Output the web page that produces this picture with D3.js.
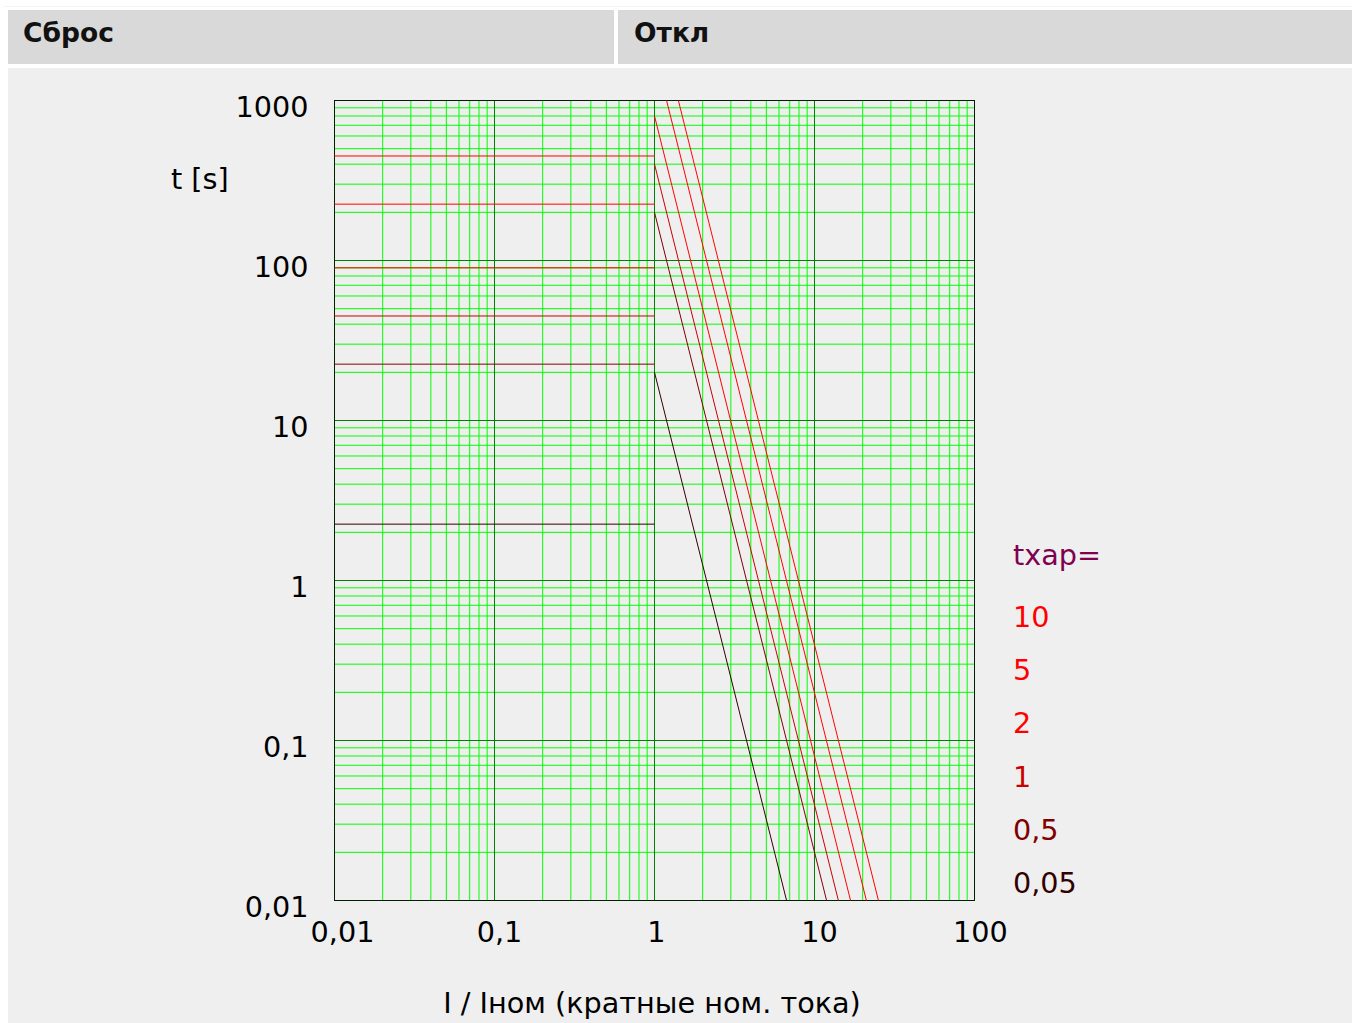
<!DOCTYPE html>
<html><head><meta charset="utf-8">
<script src="https://cdn.jsdelivr.net/npm/d3@7"></script>
<style>
html,body{margin:0;padding:0;background:#fff;}
svg{display:block;font-family:"DejaVu Sans",sans-serif;}
</style></head>
<body>
<script>
// ---- data ----
const headers = ["Сброс", "Откл"];
const txap = [10, 5, 2, 1, 0.5, 0.05];
const txapLabels = ["10", "5", "2", "1", "0,5", "0,05"];
const txapColors = ["#ff0000", "#ff0000", "#ff0000", "#cc0000", "#800000", "#330000"];
// reset (Сброс) times for I < 1, seconds
const resetTimes = [450, 225, 90, 45, 22.5, 2.25];
// trip curve start points [I, t] and end points [I, t]
const tripStart = [[1.41, 1000], [1.19, 1000], [1, 800], [1, 400], [1, 200], [1, 20]];
const tripEnd = [[25.1, 0.01], [21.1, 0.01], [16.8, 0.01], [14.1, 0.01], [11.9, 0.01], [6.69, 0.01]];
const xTicks = [0.01, 0.1, 1, 10, 100];
const xTickLabels = ["0,01", "0,1", "1", "10", "100"];
const yTicks = [0.01, 0.1, 1, 10, 100, 1000];
const yTickLabels = ["0,01", "0,1", "1", "10", "100", "1000"];
const xTitle = "I / Iном (кратные ном. тока)";
const yTitle = "t [s]";
const legendTitle = "tхар=";

const W = 1352, H = 1023;
const FS = 28.7;
const svg = d3.select("body").append("svg").attr("width", W).attr("height", H);

// background panels
svg.append("rect").attr("x", 0).attr("y", 0).attr("width", W).attr("height", H).attr("fill", "#ffffff");
svg.append("rect").attr("x", 4).attr("y", 6).attr("width", W - 4).attr("height", 1).attr("fill", "#f4f4f4");
svg.append("rect").attr("x", 8).attr("y", 10).attr("width", 606).attr("height", 54).attr("fill", "#d9d9d9");
svg.append("rect").attr("x", 618).attr("y", 10).attr("width", W - 618).attr("height", 54).attr("fill", "#d9d9d9");
svg.append("rect").attr("x", 8).attr("y", 68).attr("width", W - 8).attr("height", H - 68).attr("fill", "#efefef");

svg.append("text").attr("x", 23).attr("y", 42).attr("font-size", 26.5).attr("font-weight", "bold").attr("fill", "#111").text(headers[0]);
svg.append("text").attr("x", 634).attr("y", 42).attr("font-size", 26.5).attr("font-weight", "bold").attr("fill", "#111").text(headers[1]);

// scales
const x = d3.scaleLog().domain([0.01, 100]).range([334.5, 974.5]);
const y = d3.scaleLog().domain([0.01, 1000]).range([900.5, 100.5]);

const g = svg.append("g");

// minor grid
const minorX = [], minorY = [];
for (let e = -2; e < 2; e++) for (let m = 2; m <= 9; m++) minorX.push(m * Math.pow(10, e));
for (let e = -2; e < 3; e++) for (let m = 2; m <= 9; m++) minorY.push(m * Math.pow(10, e));

g.selectAll(".mx").data(minorX).enter().append("line")
  .attr("x1", d => x(d)).attr("x2", d => x(d)).attr("y1", y(1000)).attr("y2", y(0.01))
  .attr("stroke", "#00ff00").attr("stroke-width", 1);
g.selectAll(".my").data(minorY).enter().append("line")
  .attr("y1", d => y(d)).attr("y2", d => y(d)).attr("x1", x(0.01)).attr("x2", x(100))
  .attr("stroke", "#00ff00").attr("stroke-width", 1);
// major grid
g.selectAll(".Mx").data(xTicks).enter().append("line")
  .attr("x1", d => x(d)).attr("x2", d => x(d)).attr("y1", y(1000)).attr("y2", y(0.01))
  .attr("stroke", "#008000").attr("stroke-width", 1);
g.selectAll(".My").data(yTicks).enter().append("line")
  .attr("y1", d => y(d)).attr("y2", d => y(d)).attr("x1", x(0.01)).attr("x2", x(100))
  .attr("stroke", "#008000").attr("stroke-width", 1);

// border
g.append("rect").attr("x", x(0.01)).attr("y", y(1000)).attr("width", x(100) - x(0.01)).attr("height", y(0.01) - y(1000))
  .attr("fill", "none").attr("stroke", "#002000").attr("stroke-width", 1);

// reset lines and trip curves
const lineGen = d3.line().x(d => x(d[0])).y(d => y(d[1]));
txap.forEach((k, i) => {
  g.append("path").datum([[0.01, resetTimes[i]], [1, resetTimes[i]]]).attr("d", lineGen)
    .attr("fill", "none").attr("stroke", txapColors[i]).attr("stroke-width", 1);
  g.append("path").datum([tripStart[i], tripEnd[i]]).attr("d", lineGen)
    .attr("fill", "none").attr("stroke", txapColors[i]).attr("stroke-width", 1);
});

// tick labels
const xOff = [8, 5, 2, 5, 6];
svg.selectAll(".xl").data(xTicks).enter().append("text")
  .attr("x", (d, i) => x(d) + xOff[i]).attr("y", 942).attr("text-anchor", "middle")
  .attr("font-size", FS).attr("fill", "#000").text((d, i) => xTickLabels[i]);
svg.selectAll(".yl").data(yTicks).enter().append("text")
  .attr("x", 308.5).attr("y", d => y(d) + 16).attr("text-anchor", "end")
  .attr("font-size", FS).attr("fill", "#000").text((d, i) => yTickLabels[i]);

// titles
svg.append("text").attr("x", 652).attr("y", 1013).attr("text-anchor", "middle").attr("font-size", FS).attr("fill", "#000").text(xTitle);
svg.append("text").attr("x", 171).attr("y", 189).attr("font-size", FS).attr("fill", "#000").text(yTitle);

// legend
svg.append("text").attr("x", 1013).attr("y", 565).attr("font-size", FS).attr("fill", "#800050").text(legendTitle);
svg.selectAll(".lg").data(txapLabels).enter().append("text")
  .attr("x", 1013).attr("y", (d, i) => 627 + i * 53.2).attr("font-size", FS)
  .attr("fill", (d, i) => txapColors[i]).text(d => d);
</script>
</body></html>
